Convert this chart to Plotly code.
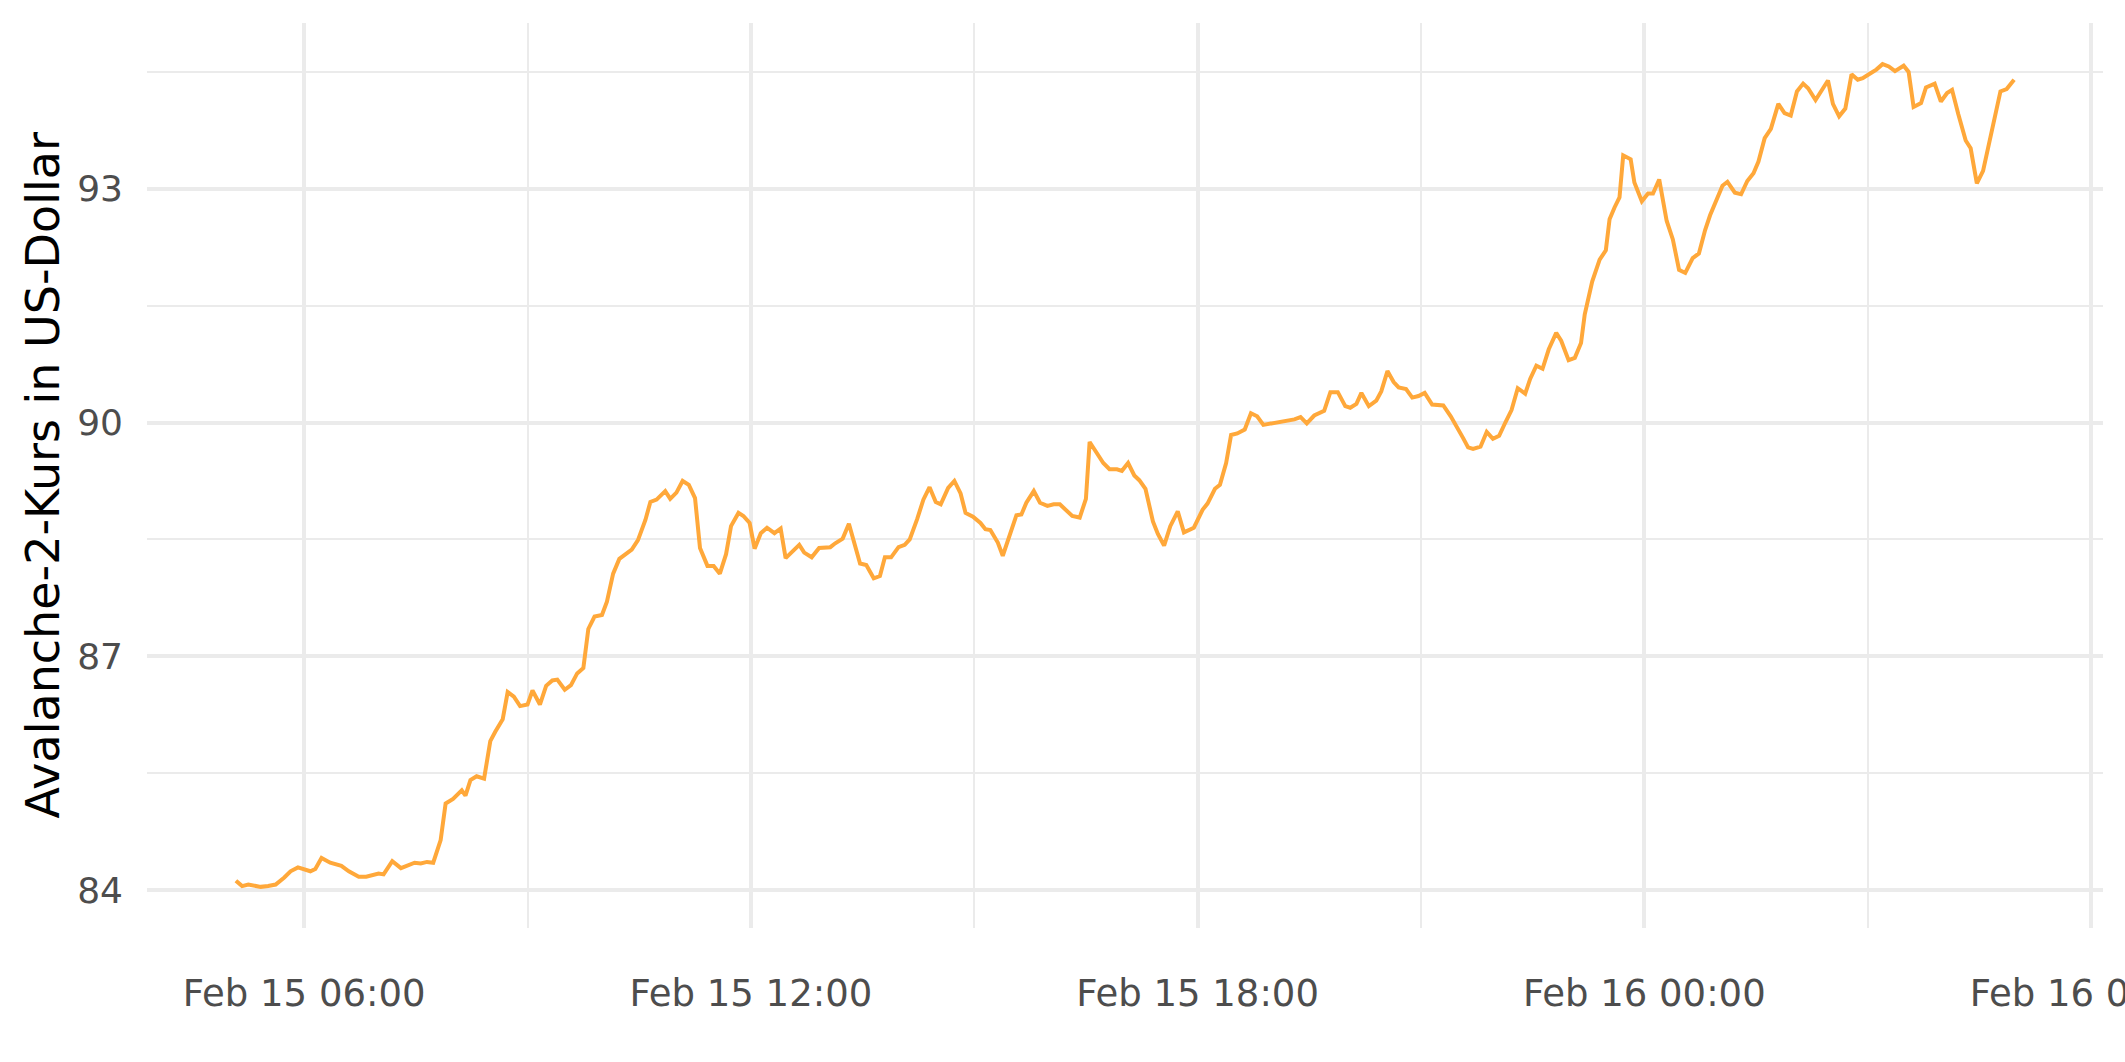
import pandas as pd
import plotly.graph_objects as go

# minutes after 2022-02-15 00:00
minutes = [305, 310, 315, 320, 325, 331, 337, 344, 349, 355, 360, 365, 369, 374, 381, 390, 396, 400, 404, 410,
           415, 420, 424, 431, 438, 443, 449, 454, 459, 464, 470, 474, 480, 487, 490, 494, 499, 505, 510, 514,
           520, 524, 529, 534, 540, 544, 550, 555, 560, 564, 570, 575, 580, 585, 589, 594, 600, 604, 609, 614,
           620, 624, 629, 635, 639, 644, 651, 655, 660, 665, 670, 675, 679, 685, 690, 695, 700, 704, 710, 714,
           719, 723, 728, 733, 739, 744, 748, 753, 759, 763, 769, 775, 780, 784, 788, 794, 799, 803, 808, 813,
           819, 824, 828, 833, 839, 844, 848, 854, 859, 864, 869, 873, 879, 884, 889, 893, 899, 905, 909, 913,
           919, 923, 928, 934, 938, 942, 948, 953, 959, 964, 969, 974, 979, 985, 990, 993, 998, 1004, 1009, 1015,
           1019, 1024, 1029, 1033, 1038, 1041, 1044, 1048, 1053, 1058, 1064, 1069, 1077, 1084, 1088, 1094, 1098,
           1103, 1107, 1112, 1118, 1123, 1128, 1133, 1141, 1150, 1158, 1163, 1168, 1174, 1182, 1187, 1193, 1199,
           1203, 1208, 1212, 1218, 1224, 1228, 1233, 1238, 1242, 1248, 1253, 1258, 1263, 1269, 1278, 1284, 1289,
           1294, 1298, 1302, 1308, 1313, 1318, 1323, 1328, 1333, 1338, 1344, 1348, 1353, 1358, 1363, 1369, 1373,
           1379, 1384, 1389, 1392, 1398, 1404, 1409, 1412, 1416, 1420, 1423, 1429, 1432, 1438, 1443, 1447, 1452,
           1458, 1463, 1468, 1473, 1479, 1484, 1489, 1493, 1499, 1503, 1507, 1513, 1518, 1523, 1528, 1532, 1537,
           1542, 1548, 1553, 1558, 1563, 1568, 1572, 1578, 1583, 1588, 1592, 1597, 1602, 1607, 1612, 1616, 1622,
           1627, 1632, 1637, 1642, 1649, 1653, 1657, 1663, 1667, 1674, 1679, 1684, 1688, 1693, 1699, 1703, 1708,
           1713, 1717, 1722, 1727, 1732, 1738]

price = [84.12, 84.05, 84.07, 84.05, 84.04, 84.05, 84.07, 84.16, 84.24, 84.29, 84.27, 84.24, 84.27, 84.41, 84.35,
         84.31, 84.24, 84.21, 84.17, 84.17, 84.19, 84.21, 84.20, 84.37, 84.28, 84.31, 84.35, 84.34, 84.36, 84.35,
         84.64, 85.11, 85.17, 85.28, 85.21, 85.41, 85.46, 85.43, 85.91, 86.03, 86.19, 86.54, 86.48, 86.36, 86.38,
         86.56, 86.38, 86.62, 86.69, 86.70, 86.57, 86.63, 86.78, 86.85, 87.35, 87.51, 87.53, 87.70, 88.06, 88.25,
         88.32, 88.37, 88.49, 88.75, 88.98, 89.01, 89.12, 89.02, 89.10, 89.25, 89.20, 89.03, 88.39, 88.16, 88.16,
         88.06, 88.31, 88.67, 88.84, 88.80, 88.71, 88.38, 88.58, 88.65, 88.58, 88.64, 88.26, 88.34, 88.43, 88.33,
         88.27, 88.39, 88.40, 88.40, 88.45, 88.51, 88.70, 88.48, 88.19, 88.17, 88.00, 88.03, 88.27, 88.27, 88.40,
         88.43, 88.50, 88.76, 89.01, 89.17, 88.98, 88.95, 89.16, 89.25, 89.09, 88.84, 88.79, 88.71, 88.63, 88.62,
         88.46, 88.29, 88.54, 88.81, 88.82, 88.97, 89.12, 88.97, 88.93, 88.95, 88.95, 88.88, 88.80, 88.78, 89.02,
         89.75, 89.63, 89.48, 89.40, 89.40, 89.38, 89.48, 89.32, 89.26, 89.15, 88.95, 88.73, 88.57, 88.42, 88.67,
         88.86, 88.59, 88.65, 88.88, 88.96, 89.15, 89.20, 89.48, 89.84, 89.86, 89.91, 90.12, 90.08, 89.97, 89.99,
         90.01, 90.04, 90.07, 89.99, 90.09, 90.15, 90.39, 90.39, 90.21, 90.19, 90.24, 90.38, 90.21, 90.28, 90.40,
         90.66, 90.52, 90.45, 90.43, 90.32, 90.34, 90.38, 90.23, 90.22, 90.08, 89.95, 89.80, 89.68, 89.66, 89.69,
         89.88, 89.79, 89.83, 90.00, 90.16, 90.44, 90.37, 90.56, 90.73, 90.69, 90.94, 91.15, 91.05, 90.80, 90.83,
         91.02, 91.39, 91.81, 92.09, 92.21, 92.61, 92.76, 92.89, 93.43, 93.38, 93.08, 92.84, 92.94, 92.94, 93.12,
         92.59, 92.35, 91.96, 91.92, 92.11, 92.17, 92.47, 92.66, 92.89, 93.04, 93.09, 92.95, 92.93, 93.10, 93.20,
         93.35, 93.65, 93.77, 94.09, 93.97, 93.94, 94.25, 94.35, 94.29, 94.14, 94.26, 94.39, 94.09, 93.93, 94.03,
         94.47, 94.40, 94.42, 94.48, 94.53, 94.60, 94.57, 94.51, 94.58, 94.50, 94.05, 94.10, 94.30, 94.35, 94.12,
         94.23, 94.27, 93.96, 93.62, 93.52, 93.07, 93.23, 93.51, 93.85, 94.25, 94.28, 94.40]

y_title = "Avalanche-2-Kurs in US-Dollar"
x_tick_format = "%b %d %H:%M"

base = pd.Timestamp("2022-02-15 00:00")
times = base + pd.to_timedelta(minutes, unit="min")

# ggplot-style 5% expansion of the data range
span_t = times.max() - times.min()
x_range = [times.min() - span_t * 0.05, times.max() + span_t * 0.05]
span_p = max(price) - min(price)
y_range = [min(price) - span_p * 0.05, max(price) + span_p * 0.05]

HOUR = 3600 * 1000
grid = "#EBEBEB"

fig = go.Figure(
    go.Scatter(x=times, y=price, mode="lines",
               line=dict(color="#FFA83A", width=4), hoverinfo="skip")
)

fig.update_layout(
    width=2125, height=1062,
    margin=dict(l=147, r=22, t=23, b=134, autoexpand=False),
    plot_bgcolor="white", paper_bgcolor="white",
    font=dict(family="DejaVu Sans", color="#4D4D4D"),
    showlegend=False,
    xaxis=dict(
        range=x_range, type="date", tick0=base, dtick=6 * HOUR,
        tickformat=x_tick_format, ticks="", showline=False, zeroline=False,
        showgrid=True, gridcolor=grid, gridwidth=3.6,
        minor=dict(dtick=3 * HOUR, tick0=base, showgrid=True, gridcolor=grid, gridwidth=1.8),
        tickfont=dict(size=37, color="#4D4D4D"),
        ticklabelstandoff=40,
        ticklabeloverflow="allow",
        automargin=False,
    ),
    yaxis=dict(
        range=y_range, tick0=84, dtick=3, ticks="", showline=False, zeroline=False,
        showgrid=True, gridcolor=grid, gridwidth=3.6,
        minor=dict(tick0=84, dtick=1.5, showgrid=True, gridcolor=grid, gridwidth=1.8),
        tickfont=dict(size=36, color="#4D4D4D"),
        ticklabelstandoff=23,
        automargin=False,
    ),
    annotations=[dict(
        text=y_title, textangle=-90, showarrow=False,
        xref="paper", yref="paper", x=0, y=0.5, xanchor="center", yanchor="middle",
        xshift=-105, font=dict(size=46, color="black", family="DejaVu Sans"),
    )],
)

fig.write_html("out.html", config={"displayModeBar": False},
               post_script="document.body.style.margin='0';document.body.style.overflow='hidden';")
